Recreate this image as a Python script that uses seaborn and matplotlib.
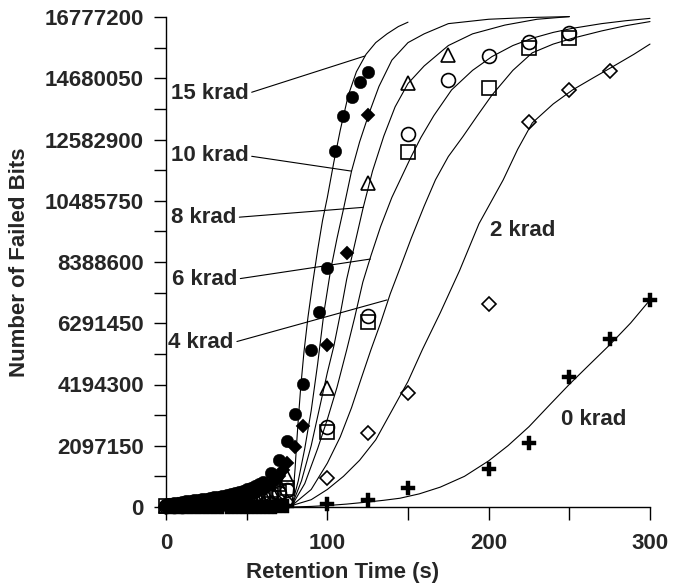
import numpy as np
import matplotlib
matplotlib.use('Agg')
import matplotlib.pyplot as plt
from matplotlib.ticker import AutoMinorLocator
import seaborn as sns

# measured points: retention time (s) and failed bits (millions)
t15 = [0, 2.5, 5, 7.5, 10, 12.5, 15, 17.5, 20, 22.5, 25, 27.5, 30, 32.5, 35, 37.5, 40, 42.5, 45, 47.5,
       50, 52.5, 55, 57.5, 60, 65, 70, 75, 80, 85, 90, 95, 100, 105, 110, 115, 120, 125]
m15 = [0.08, 0.10, 0.13, 0.15, 0.17, 0.19, 0.21, 0.23, 0.25, 0.27, 0.29, 0.31, 0.33, 0.35, 0.38, 0.41,
       0.44, 0.47, 0.51, 0.55, 0.60, 0.66, 0.72, 0.79, 0.87, 1.15, 1.61, 2.27, 3.17, 4.21,
       5.38, 6.69, 8.17, 12.18, 13.39, 14.04, 14.54, 14.90]

t10 = [0, 2.5, 5, 7.5, 10, 12.5, 15, 17.5, 20, 22.5, 25, 27.5, 30, 32.5, 35, 37.5, 40, 42.5, 45, 47.5,
       50, 52.5, 55, 57.5, 60, 62.5, 65, 67.5, 70, 72.5, 75, 80, 85, 100, 112, 125]
m10 = [0.05, 0.06, 0.08, 0.09, 0.11, 0.12, 0.14, 0.15, 0.17, 0.18, 0.20, 0.21, 0.23, 0.25, 0.27, 0.29,
       0.31, 0.33, 0.36, 0.39, 0.42, 0.46, 0.50, 0.55, 0.60, 0.68, 0.78, 0.90, 1.05, 1.25,
       1.52, 2.06, 2.78, 5.55, 8.69, 13.42]

t8 = [0, 5, 10, 15, 20, 25, 30, 35, 40, 45, 50, 55, 60, 65, 70, 75, 100, 125, 150, 175]
m8 = [0.03, 0.05, 0.07, 0.09, 0.11, 0.13, 0.15, 0.18, 0.21, 0.25, 0.30, 0.36, 0.45, 0.58, 0.78, 1.04,
      4.09, 11.10, 14.51, 15.48]

t6 = [0, 5, 10, 15, 20, 25, 30, 35, 40, 45, 50, 55, 60, 65, 70, 75, 100, 125, 150, 175, 200, 225, 250]
m6 = [0.02, 0.04, 0.05, 0.07, 0.09, 0.10, 0.12, 0.14, 0.17, 0.20, 0.24, 0.28, 0.34, 0.41, 0.49, 0.58,
      2.75, 6.54, 12.77, 14.62, 15.44, 15.93, 16.22]

t4 = [0, 5, 10, 15, 20, 25, 30, 35, 40, 45, 50, 55, 60, 65, 70, 75, 100, 125, 150, 200, 225, 250]
m4 = [0.02, 0.03, 0.05, 0.06, 0.08, 0.09, 0.11, 0.13, 0.15, 0.18, 0.22, 0.26, 0.32, 0.40, 0.52, 0.66,
      2.58, 6.35, 12.17, 14.34, 15.70, 16.05]

t2 = [0, 5, 10, 15, 20, 25, 30, 35, 40, 45, 50, 55, 60, 65, 70, 75, 100, 125, 150, 200, 225, 250, 275]
m2 = [0.01, 0.02, 0.02, 0.03, 0.03, 0.04, 0.04, 0.05, 0.06, 0.07, 0.08, 0.09, 0.10, 0.12, 0.15, 0.18,
      1.00, 2.54, 3.89, 6.95, 13.17, 14.28, 14.93]

t0 = [0, 2.5, 5, 7.5, 10, 12.5, 15, 17.5, 20, 22.5, 25, 27.5, 30, 32.5, 35, 37.5, 40, 42.5, 45, 47.5,
      50, 52.5, 55, 57.5, 60, 62.5, 65, 67.5, 70, 72.5, 75, 100, 125, 150, 200, 225, 250, 275, 300]
m0 = [0.0, 0.0, 0.0, 0.0, 0.0, 0.0, 0.0, 0.0, 0.0, 0.0, 0.0, 0.0, 0.0, 0.0, 0.0, 0.0,
      0.01, 0.01, 0.01, 0.01, 0.01, 0.01, 0.01, 0.01, 0.01, 0.01, 0.01, 0.01, 0.02, 0.02, 0.02,
      0.09, 0.24, 0.64, 1.29, 2.18, 4.46, 5.75, 7.09]

# fitted curves
c15_t = [78, 79, 80, 81, 82, 83.5, 85.5, 88, 91, 94, 97, 100, 104, 108, 113, 118, 124, 130, 137, 144, 150]
c15_m = [0.05, 0.6, 1.3, 2.2, 3.0, 4.1, 5.3, 6.5, 7.7, 8.8, 9.8, 10.6, 11.8, 12.9, 14.1, 14.9, 15.5, 15.9,
         16.2, 16.45, 16.6]
c10_t = [78, 82, 86, 90, 94, 98, 102, 106, 110, 115, 120, 126, 132, 140, 150, 160, 175, 200, 225, 250]
c10_m = [0.05, 0.9, 2.0, 3.3, 4.9, 6.7, 8.1, 9.2, 10.2, 11.5, 12.5, 13.5, 14.4, 15.3, 15.9, 16.2, 16.55,
         16.7, 16.76, 16.79]
c8_t = [78, 84, 90, 96, 100, 104, 108, 112, 117, 122, 128, 135, 142, 150, 160, 175, 190, 210, 230, 250]
c8_m = [0.05, 0.9, 2.1, 3.6, 4.6, 5.5, 6.6, 7.8, 9.0, 10.2, 11.5, 12.7, 13.7, 14.5, 15.1, 15.8, 16.2,
        16.5, 16.7, 16.79]
c6_t = [78, 86, 94, 100, 106, 112, 117, 122, 127, 133, 140, 146, 152, 158, 166, 177, 190, 202, 215, 227,
        240, 252, 270, 285, 300]
c6_m = [0.05, 0.8, 2.0, 3.0, 4.1, 5.38, 6.5, 7.7, 8.6, 9.6, 10.6, 11.3, 12.0, 12.65, 13.4, 14.28, 14.95,
        15.42, 15.8, 16.05, 16.25, 16.39, 16.55, 16.65, 16.73]
c4_t = [78, 90, 100, 108, 115, 121, 127, 133, 139, 145, 152, 160, 167, 175, 184, 193, 202, 215, 227, 240,
        252, 270, 285, 300]
c4_m = [0.05, 0.6, 1.5, 2.4, 3.4, 4.4, 5.38, 6.3, 7.3, 8.17, 9.2, 10.3, 11.2, 12.0, 12.68, 13.4, 14.1,
        14.95, 15.55, 15.85, 16.05, 16.3, 16.48, 16.62]
c2_t = [78, 90, 100, 110, 120, 130, 140, 150, 159, 170, 182, 194, 209, 218, 227, 240, 252, 265, 277, 290, 300]
c2_m = [0.05, 0.25, 0.6, 1.05, 1.6, 2.3, 3.3, 4.3, 5.4, 6.65, 8.1, 9.7, 11.2, 12.25, 13.15, 13.8, 14.28,
        14.7, 15.08, 15.5, 15.85]
c0_t = [78, 90, 100, 112, 125, 135, 145, 157, 170, 185, 200, 212, 225, 237, 250, 262, 275, 288, 300]
c0_m = [0.0, 0.02, 0.05, 0.1, 0.17, 0.23, 0.30, 0.45, 0.68, 1.05, 1.58, 2.1, 2.75, 3.45, 4.2, 4.85,
        5.55, 6.3, 7.09]

# dose labels: text, text position, point on curve (s, millions)
labels = ['15 krad', '10 krad', '8 krad', '6 krad', '4 krad']
label_xy = [(2.9, 14.25), (2.9, 12.11), (2.9, 10.0), (3.5, 7.89), (1.4, 5.72)]
label_target = [(123.2, 15.44), (115.0, 11.5), (122.2, 10.26), (126.7, 8.49), (137.0, 7.09)]
free_labels = ['2 krad', '0 krad']
free_xy = [(200.6, 9.54), (244.6, 3.09)]

y_ticks = [0, 2097150, 4194300, 6291450, 8388600, 10485750, 12582900, 14680050, 16777200]
x_ticks = [0, 100, 200, 300]

sns.set_style('ticks')
plt.rcParams['font.family'] = ['Liberation Sans', 'DejaVu Sans']
plt.rcParams['font.weight'] = 'bold'

fig = plt.figure(figsize=(6.78, 5.83), dpi=100)
ax = fig.add_axes([166 / 678, 1 - 507 / 583, 484 / 678, 490 / 583])

M = 1e6
curves = [(c15_t, c15_m), (c10_t, c10_m), (c8_t, c8_m), (c6_t, c6_m),
          (c4_t, c4_m), (c2_t, c2_m), (c0_t, c0_m)]
for ct, cm in curves:
    sns.lineplot(x=ct, y=np.array(cm) * M, color='black', lw=0.8, errorbar=None,
                 ax=ax, clip_on=False)

series = [
    (t0, m0, 'P', 9.5, 'black', 0.3),
    (t2, m2, 'D', 6.8, 'none', 1.2),
    (t4, m4, 's', 9.5, 'none', 1.2),
    (t6, m6, 'o', 10, 'none', 1.2),
    (t8, m8, '^', 9.5, 'none', 1.2),
    (t10, m10, 'D', 7.5, 'black', 0.3),
    (t15, m15, 'o', 9, 'black', 0.3),
]
for t, m, mk, ms, fc, mew in series:
    sns.lineplot(x=t, y=np.array(m) * M, marker=mk, markersize=ms, linestyle='',
                 markerfacecolor=fc, markeredgecolor='black', markeredgewidth=mew,
                 color='black', errorbar=None, ax=ax, clip_on=False)

for txt, (lx, ly), (px, py) in zip(labels, label_xy, label_target):
    ax.annotate(txt, xy=(px, py * M), xytext=(lx, ly * M), fontsize=16, fontweight='bold',
                ha='left', va='center_baseline',
                arrowprops=dict(arrowstyle='-', lw=0.8, color='black', shrinkA=0, shrinkB=0,
                                relpos=(1, 0.5)))
for txt, (lx, ly) in zip(free_labels, free_xy):
    ax.text(lx, ly * M, txt, fontsize=16, fontweight='bold', ha='left', va='center_baseline')

ax.set_xlim(0, 300)
ax.set_ylim(0, 16777200)
ax.set_xticks(x_ticks)
ax.set_xticklabels([str(v) for v in x_ticks])
ax.set_yticks(y_ticks)
ax.set_yticklabels([str(v) for v in y_ticks])
ax.xaxis.set_minor_locator(AutoMinorLocator(2))
ax.yaxis.set_minor_locator(AutoMinorLocator(2))
ax.tick_params(axis='both', which='both', direction='out', length=9, width=1, color='black')
ax.tick_params(axis='y', which='major', pad=7, labelsize=16)
ax.tick_params(axis='x', which='major', pad=10, labelsize=16)
for lab in ax.get_xticklabels() + ax.get_yticklabels():
    lab.set_fontweight('bold')

sns.despine(ax=ax)
for s in ['left', 'bottom']:
    ax.spines[s].set_linewidth(1)
    ax.spines[s].set_color('black')

ax.set_xlabel('Retention Time (s)', fontsize=16, fontweight='bold')
ax.set_ylabel('Number of Failed Bits', fontsize=16, fontweight='bold')
ax.xaxis.set_label_coords(0.364, -0.112)
ax.yaxis.set_label_coords(-0.28, 0.5)

fig.savefig('out.png', dpi=100)
